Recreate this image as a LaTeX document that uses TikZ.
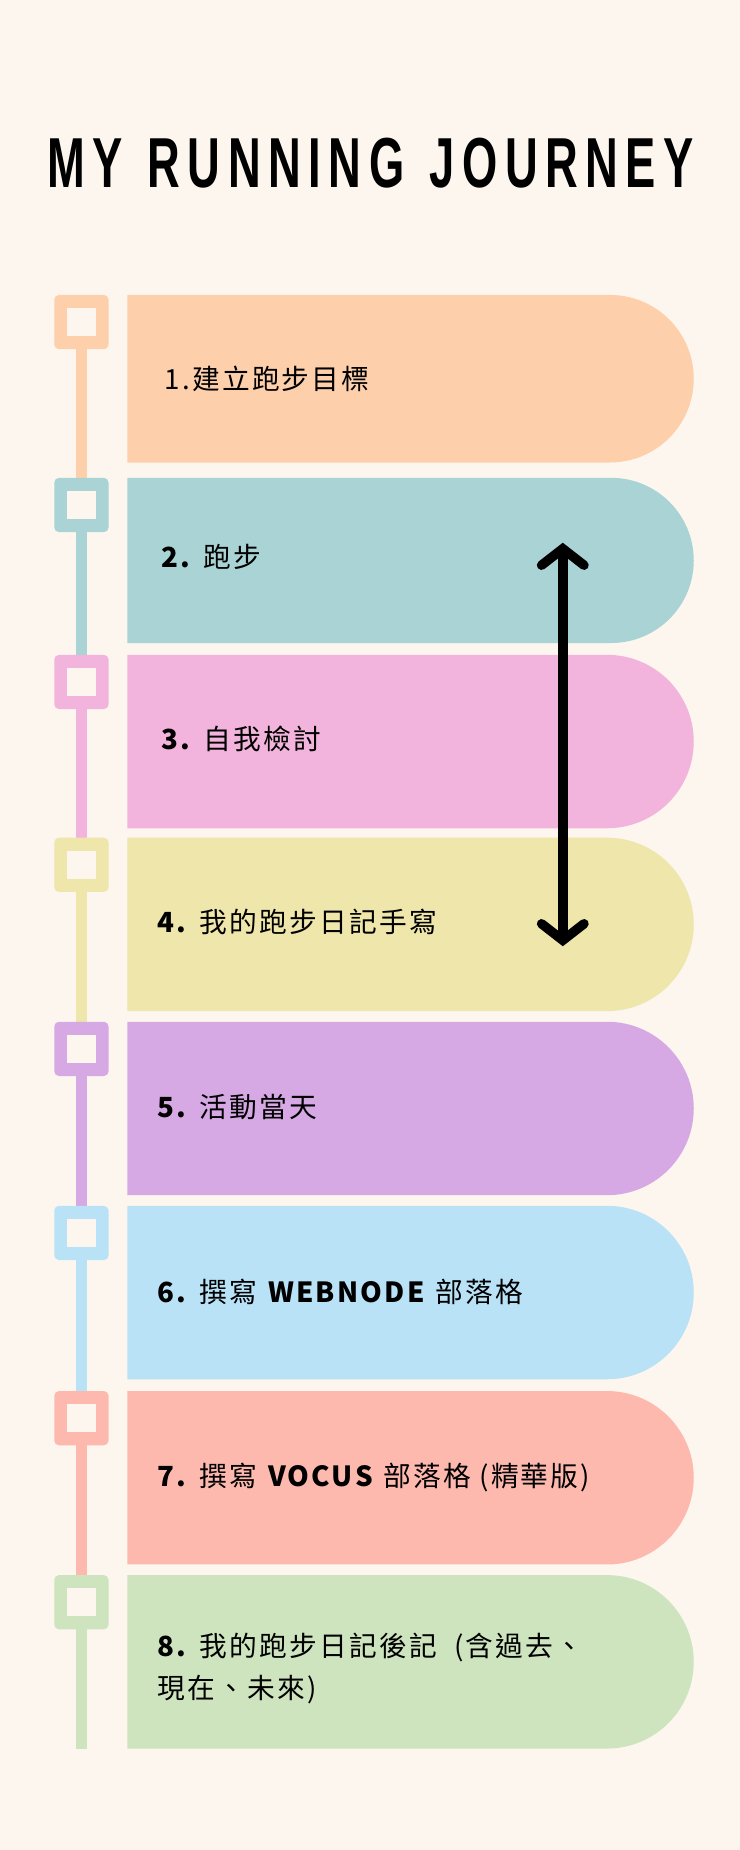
\documentclass[tikz,border=0pt]{standalone}
\usepackage{fontspec}
\setmainfont{Liberation Sans}
\newfontfamily\cjk{Noto Sans CJK TC}[LetterSpace=8]
\usetikzlibrary{arrows.meta}
\definecolor{bgc}{HTML}{FCF6EE}
\definecolor{c1}{HTML}{FDCFAB}
\definecolor{c2}{HTML}{A9D3D4}
\definecolor{c3}{HTML}{F2B4DC}
\definecolor{c4}{HTML}{EEE6AA}
\definecolor{c5}{HTML}{D6A8E4}
\definecolor{c6}{HTML}{B9E2F7}
\definecolor{c7}{HTML}{FDB9AE}
\definecolor{c8}{HTML}{CEE4BF}
\tikzset{lbl/.style={anchor=west,font=\cjk\fontsize{23.5}{36}\selectfont,text=black,align=left}}
\begin{document}
\begin{tikzpicture}[x=1pt,y=1pt]
\fill[bgc] (0,0) rectangle (627,-1568);
\useasboundingbox (0,0) rectangle (627,-1568);
\node[font=\bfseries\fontsize{60}{60}\selectfont,xscale=0.64] (title) at (314,-138) {M\,Y\ \ R\,U\,N\,N\,I\,N\,G\ \ J\,O\,U\,R\,N\,E\,Y};
\foreach \c/\t/\b/\n in {c1/250/392/405,c2/405/545/555,c3/555/702/710,c4/710/857/866,c5/866/1013/1022,c6/1022/1169/1179,c7/1179/1326/1335,c8/1335/1482/1482}{
  \pgfmathsetmacro{\r}{(\b-\t)/2}
  \fill[\c] (108,-\t) -- (588-\r,-\t) arc[start angle=90,end angle=-90,radius=\r] -- (108,-\b) -- cycle;
  \fill[\c] (64,-\t) rectangle (74,-\n);
  \fill[\c,rounded corners=4] (46,-\t) rectangle (92,-\t-46);
  \fill[bgc] (57,-\t-11) rectangle (81,-\t-35);
}
\node[lbl] (n1) at (136,-321) {1.建立跑步目標};
\node[lbl] (n2) at (133,-472) {\textbf{2.} 跑步};
\node[lbl] (n3) at (133,-626) {\textbf{3.} 自我檢討};
\node[lbl] (n4) at (130,-781) {\textbf{4.} 我的跑步日記手寫};
\node[lbl] (n5) at (130,-938) {\textbf{5.} 活動當天};
\node[lbl] (n6) at (130,-1095) {\textbf{6.} 撰寫 \textbf{WEBNODE} 部落格};
\node[lbl] (n7) at (130,-1252) {\textbf{7.} 撰寫 \textbf{VOCUS} 部落格 (精華版)};
\node[lbl] (n8) at (130,-1414) {\textbf{8.} 我的跑步日記後記\ \ (含過去、\\現在、未來)};
\coordinate (atop) at (477,-460);
\coordinate (abot) at (477,-802);
\draw[line width=8pt,line cap=round,{Straight Barb[length=14pt,width=36pt,line cap=round]}-{Straight Barb[length=14pt,width=36pt,line cap=round]}] (atop) -- (abot);
\end{tikzpicture}
\end{document}
